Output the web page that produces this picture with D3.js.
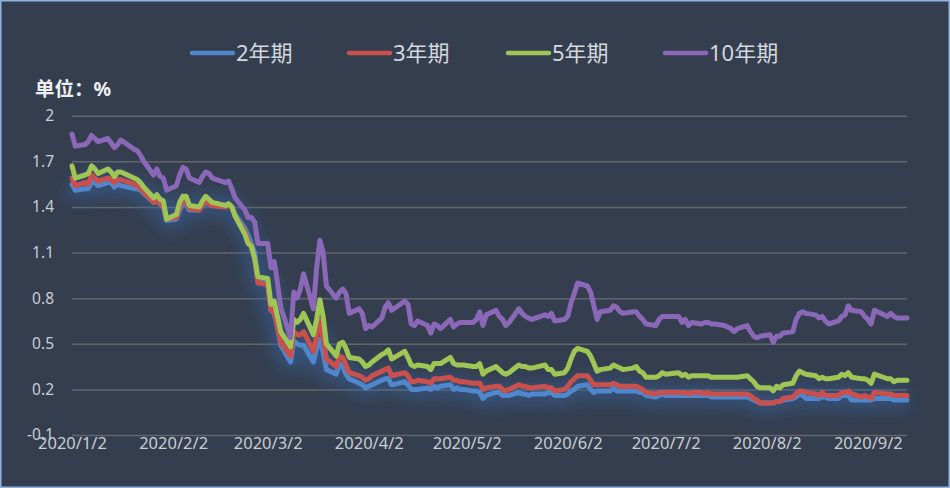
<!DOCTYPE html>
<html>
<head>
<meta charset="utf-8">
<script src="https://cdn.jsdelivr.net/npm/d3@7/dist/d3.min.js"></script>
<style>
html,body{margin:0;padding:0;background:#343e4f;}
svg{display:block;}
text{font-family:"Noto Sans","Noto Sans CJK SC",sans-serif;}
</style>
</head>
<body>
<svg id="chart" width="950" height="488"></svg>
<script>
// ---- data ----
const dates = ["1/2","1/3","1/6","1/7","1/8","1/9","1/10","1/13","1/14","1/15","1/16","1/17","1/21","1/22","1/23","1/24","1/27","1/28","1/29","1/30","1/31",
"2/3","2/4","2/5","2/6","2/7","2/10","2/11","2/12","2/13","2/14","2/18","2/19","2/20","2/21","2/24","2/25","2/26","2/27","2/28",
"3/2","3/3","3/4","3/5","3/6","3/9","3/10","3/11","3/12","3/13","3/16","3/17","3/18","3/19","3/20","3/23","3/24","3/25","3/26","3/27","3/30","3/31",
"4/1","4/2","4/3","4/6","4/7","4/8","4/9","4/13","4/14","4/15","4/16","4/17","4/20","4/21","4/22","4/23","4/24","4/27","4/28","4/29","4/30",
"5/1","5/4","5/5","5/6","5/7","5/8","5/11","5/12","5/13","5/14","5/15","5/18","5/19","5/20","5/21","5/22","5/26","5/27","5/28","5/29",
"6/1","6/2","6/3","6/4","6/5","6/8","6/9","6/10","6/11","6/12","6/15","6/16","6/17","6/18","6/19","6/22","6/23","6/24","6/25","6/26","6/29","6/30",
"7/1","7/2","7/6","7/7","7/8","7/9","7/10","7/13","7/14","7/15","7/16","7/17","7/20","7/21","7/22","7/23","7/24","7/27","7/28","7/29","7/30","7/31",
"8/3","8/4","8/5","8/6","8/7","8/10","8/11","8/12","8/13","8/14","8/17","8/18","8/19","8/20","8/21","8/24","8/25","8/26","8/27","8/28","8/31",
"9/1","9/2","9/3","9/4","9/8","9/9","9/10","9/11","9/14"];

const y2 = [1.55,1.51,1.52,1.52,1.56,1.56,1.54,1.56,1.56,1.53,1.55,1.54,1.52,1.52,1.51,1.49,1.43,1.44,1.42,1.40,1.31,
1.32,1.38,1.42,1.42,1.38,1.38,1.41,1.43,1.42,1.41,1.40,1.42,1.40,1.35,1.26,1.21,1.16,1.10,0.91,
0.90,0.72,0.70,0.61,0.49,0.38,0.52,0.50,0.49,0.49,0.38,0.47,0.53,0.44,0.33,0.30,0.37,0.35,0.30,0.27,0.24,0.23,
0.21,0.22,0.23,0.26,0.27,0.27,0.23,0.25,0.23,0.20,0.20,0.20,0.21,0.20,0.22,0.21,0.22,0.23,0.20,0.21,0.20,
0.20,0.19,0.19,0.18,0.14,0.16,0.18,0.18,0.16,0.16,0.16,0.18,0.17,0.17,0.16,0.17,0.17,0.18,0.18,0.16,
0.16,0.17,0.19,0.20,0.22,0.23,0.20,0.18,0.19,0.19,0.19,0.21,0.19,0.19,0.19,0.19,0.19,0.18,0.18,0.16,0.15,0.16,
0.17,0.16,0.16,0.16,0.16,0.16,0.16,0.16,0.16,0.16,0.15,0.15,0.15,0.15,0.15,0.15,0.15,0.15,0.14,0.13,0.12,0.11,
0.11,0.11,0.12,0.12,0.13,0.14,0.15,0.17,0.16,0.14,0.14,0.14,0.15,0.15,0.14,0.14,0.16,0.16,0.16,0.13,0.13,
0.13,0.13,0.13,0.14,0.14,0.14,0.13,0.13,0.13];

const y3 = [1.59,1.54,1.56,1.55,1.61,1.59,1.57,1.59,1.58,1.56,1.58,1.58,1.55,1.54,1.52,1.50,1.43,1.45,1.42,1.41,1.32,
1.33,1.40,1.44,1.44,1.39,1.38,1.42,1.44,1.42,1.41,1.40,1.41,1.40,1.34,1.24,1.18,1.14,1.06,0.90,
0.89,0.72,0.71,0.61,0.51,0.42,0.58,0.56,0.56,0.58,0.45,0.55,0.66,0.54,0.40,0.35,0.42,0.41,0.36,0.31,0.29,0.28,
0.26,0.27,0.29,0.32,0.33,0.34,0.29,0.31,0.29,0.25,0.25,0.26,0.25,0.24,0.27,0.27,0.27,0.28,0.26,0.26,0.25,
0.25,0.24,0.24,0.24,0.20,0.21,0.22,0.22,0.20,0.19,0.20,0.23,0.22,0.22,0.21,0.21,0.22,0.21,0.21,0.19,
0.20,0.22,0.25,0.27,0.29,0.29,0.26,0.23,0.23,0.23,0.23,0.24,0.23,0.22,0.22,0.22,0.22,0.21,0.20,0.18,0.17,0.18,
0.18,0.18,0.18,0.18,0.18,0.17,0.18,0.18,0.17,0.18,0.17,0.17,0.17,0.17,0.17,0.17,0.17,0.17,0.16,0.14,0.13,0.11,
0.11,0.11,0.12,0.12,0.14,0.15,0.17,0.19,0.19,0.18,0.17,0.16,0.18,0.16,0.16,0.16,0.18,0.18,0.19,0.17,0.15,
0.16,0.15,0.14,0.18,0.17,0.17,0.16,0.16,0.16];

const y5 = [1.67,1.59,1.61,1.62,1.67,1.65,1.62,1.65,1.63,1.60,1.63,1.63,1.59,1.58,1.56,1.53,1.46,1.48,1.45,1.44,1.32,
1.35,1.43,1.47,1.47,1.41,1.40,1.44,1.47,1.45,1.43,1.41,1.42,1.40,1.34,1.22,1.16,1.14,1.06,0.94,
0.93,0.76,0.78,0.68,0.58,0.48,0.66,0.64,0.66,0.70,0.56,0.66,0.79,0.68,0.50,0.42,0.50,0.51,0.47,0.41,0.40,0.38,
0.35,0.36,0.38,0.43,0.44,0.46,0.40,0.45,0.41,0.36,0.35,0.36,0.35,0.33,0.37,0.37,0.37,0.41,0.37,0.36,0.36,
0.36,0.35,0.35,0.37,0.30,0.32,0.35,0.33,0.31,0.30,0.31,0.36,0.35,0.35,0.34,0.34,0.36,0.33,0.33,0.30,
0.31,0.34,0.40,0.45,0.47,0.45,0.42,0.37,0.32,0.33,0.34,0.36,0.35,0.34,0.33,0.34,0.35,0.32,0.31,0.28,0.28,0.29,
0.31,0.30,0.31,0.29,0.30,0.28,0.29,0.29,0.29,0.29,0.28,0.28,0.28,0.28,0.28,0.28,0.28,0.29,0.27,0.25,0.22,0.21,
0.21,0.19,0.22,0.21,0.23,0.24,0.29,0.32,0.31,0.30,0.29,0.27,0.28,0.27,0.27,0.28,0.30,0.29,0.31,0.28,0.27,
0.27,0.26,0.24,0.30,0.27,0.27,0.25,0.26,0.26];

const y10 = [1.88,1.80,1.81,1.83,1.87,1.85,1.83,1.85,1.82,1.79,1.81,1.84,1.78,1.77,1.74,1.70,1.61,1.65,1.60,1.59,1.51,
1.54,1.61,1.66,1.65,1.59,1.56,1.60,1.63,1.62,1.59,1.56,1.57,1.52,1.46,1.38,1.33,1.33,1.30,1.16,
1.16,1.00,1.04,0.90,0.74,0.54,0.84,0.80,0.86,0.96,0.73,1.00,1.18,1.10,0.88,0.80,0.84,0.86,0.83,0.70,0.73,0.70,
0.60,0.62,0.61,0.67,0.74,0.77,0.72,0.78,0.76,0.63,0.62,0.65,0.62,0.57,0.63,0.62,0.60,0.66,0.61,0.63,0.64,
0.64,0.64,0.66,0.71,0.62,0.69,0.72,0.68,0.66,0.62,0.64,0.73,0.70,0.68,0.67,0.66,0.69,0.68,0.70,0.65,
0.66,0.68,0.77,0.83,0.90,0.88,0.84,0.75,0.66,0.71,0.72,0.75,0.74,0.71,0.70,0.71,0.71,0.68,0.66,0.63,0.62,0.66,
0.68,0.68,0.68,0.64,0.66,0.62,0.64,0.63,0.64,0.64,0.63,0.63,0.62,0.61,0.60,0.58,0.60,0.62,0.58,0.55,0.54,0.55,
0.56,0.51,0.55,0.55,0.57,0.58,0.66,0.70,0.71,0.70,0.69,0.67,0.68,0.65,0.63,0.65,0.68,0.69,0.75,0.72,0.71,
0.68,0.66,0.63,0.72,0.68,0.70,0.68,0.67,0.67];

const seriesNames = ["2年期","3年期","5年期","10年期"];
const seriesColors = ["#4f86cc","#c9504c","#9fc655","#8a68b7"];
const yTicks = [2,1.7,1.4,1.1,0.8,0.5,0.2,-0.1];
const xTickDates = ["2020/1/2","2020/2/2","2020/3/2","2020/4/2","2020/5/2","2020/6/2","2020/7/2","2020/8/2","2020/9/2"];
const unitLabel = "单位：%";

// ---- drawing ----
const parse = d3.timeParse("%Y/%m/%d");
const xDates = dates.map(s => parse("2020/" + s));
const allSeries = [y2, y3, y5, y10];

const svg = d3.select("#chart");
const W = 950, H = 488;

svg.append("rect").attr("x",0.75).attr("y",0.75).attr("width",W-1.5).attr("height",H-1.5)
  .attr("fill","#343e4f").attr("stroke","#8db3e2").attr("stroke-width",1.5);

const x = d3.scaleTime().domain([xDates[0], xDates[xDates.length-1]]).range([72, 907]);
const y = d3.scaleLinear().domain([-0.1, 2]).range([435, 115.7]);

// glow filter
const defs = svg.append("defs");
const f = defs.append("filter").attr("id","glow").attr("x","-10%").attr("y","-20%").attr("width","120%").attr("height","140%");
f.append("feGaussianBlur").attr("stdDeviation",8);

// gridlines + y labels
const yAxis = d3.axisLeft(y).tickValues(yTicks).tickSize(-(907-72)).tickPadding(18)
  .tickFormat(d => String(+d.toFixed(1)));
const gy = svg.append("g").attr("transform","translate(72,0)").call(yAxis);
gy.select(".domain").remove();
gy.selectAll(".tick line").attr("stroke","#62666c").attr("stroke-width",1.5);
gy.selectAll(".tick text").attr("fill","#c9cdd4").attr("font-size","15.5px").attr("x",-18);

// x labels
const xAxis = d3.axisBottom(x).tickValues(xTickDates.map(parse)).tickSize(0).tickPadding(0)
  .tickFormat(d3.timeFormat("%Y/%-m/%-d"));
const gx = svg.append("g").attr("transform","translate(0,435)").call(xAxis);
gx.select(".domain").remove();
gx.selectAll(".tick text").attr("fill","#c9cdd4").attr("font-size","16.5px").attr("dy","0").attr("y",14);

// lines
const line = d3.line().x((d,i) => x(xDates[i])).y(d => y(d)).curve(d3.curveLinear);

svg.append("path").datum(y2).attr("d", line).attr("fill","none")
  .attr("stroke","#3a6fb8").attr("stroke-opacity",0.4).attr("stroke-width",20)
  .attr("stroke-linejoin","round").attr("filter","url(#glow)");

allSeries.forEach((s, k) => {
  svg.append("path").datum(s).attr("d", line).attr("fill","none")
    .attr("stroke", seriesColors[k]).attr("stroke-width", 5)
    .attr("stroke-linejoin","round").attr("stroke-linecap","round");
});

// legend
const legendX = [192, 349, 508, 665];
seriesNames.forEach((n, k) => {
  const g = svg.append("g").attr("transform", `translate(${legendX[k]},53)`);
  g.append("line").attr("x1",0).attr("x2",41).attr("y1",0).attr("y2",0)
    .attr("stroke", seriesColors[k]).attr("stroke-width",4.5).attr("stroke-linecap","round");
  g.append("text").attr("x",44).attr("y",0).attr("dy","0.36em")
    .attr("fill","#d3d7de").attr("font-size","22px").text(n);
});

// unit label
svg.append("text").attr("x",35).attr("y",96).attr("fill","#eef0f3")
  .attr("font-size","19.5px").attr("font-weight","bold").text(unitLabel);
</script>
</body>
</html>
